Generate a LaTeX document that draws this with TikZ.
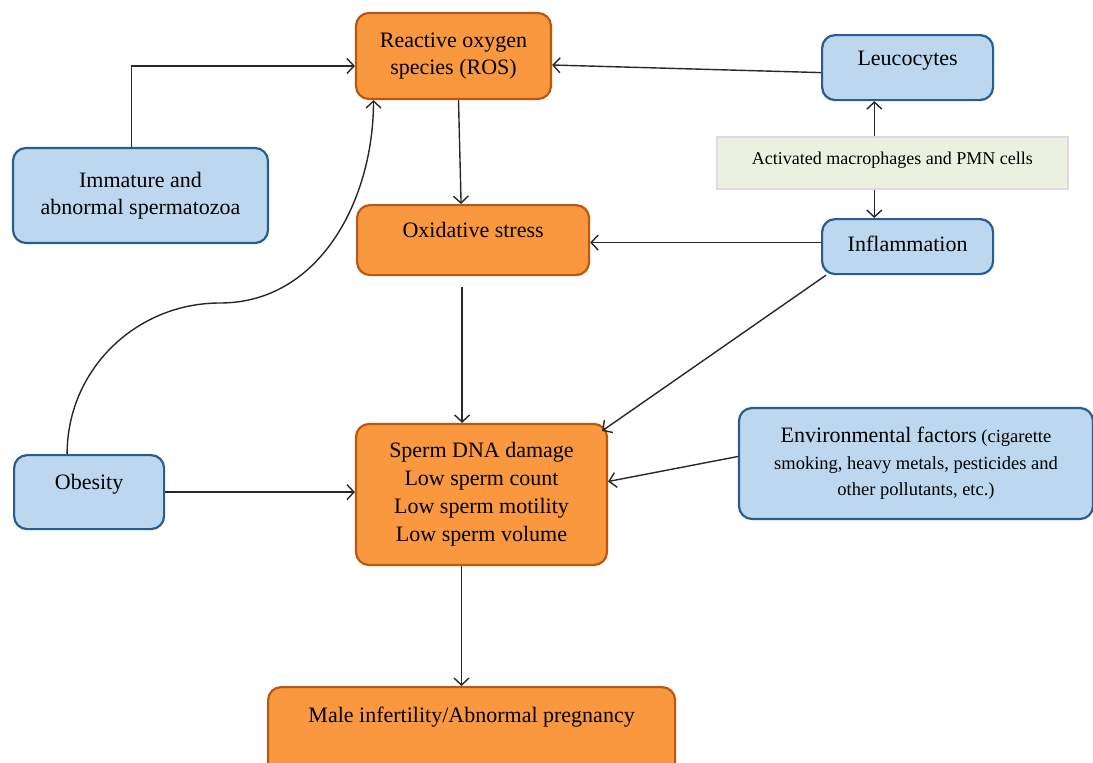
\documentclass[tikz,border=0pt]{standalone}
\usepackage{fontspec}
\setmainfont{Liberation Serif}
\usetikzlibrary{arrows.meta}
\definecolor{orangefill}{RGB}{249,152,62}
\definecolor{orangeedge}{RGB}{186,88,18}
\definecolor{bluefill}{RGB}{189,215,238}
\definecolor{blueedge}{RGB}{38,94,144}
\definecolor{greenfill}{RGB}{235,241,222}
\definecolor{pinkedge}{RGB}{228,214,234}
\definecolor{linegray}{RGB}{40,40,40}

\begin{document}
\begin{tikzpicture}[x=1pt,y=-1pt]
                        \tikzstyle{orangebox}=[draw=orangeedge, fill=orangefill, line width=2.2pt, rounded corners=13pt, align=center, font=\fontsize{22}{27.5}\selectfont]
                        \tikzstyle{bluebox}=[draw=blueedge, fill=bluefill, line width=2.2pt, rounded corners=13pt, align=center, font=\fontsize{22}{27.5}\selectfont]
                        \tikzstyle{cellbox}=[draw=pinkedge, fill=greenfill, line width=1.6pt, font=\fontsize{18}{20}\selectfont]
                        \tikzstyle{arr}=[draw=linegray, line width=1.4pt, -{Straight Barb[length=7pt,width=15pt]}]
                        \useasboundingbox (0,0) rectangle (1093,763);
                        \node[orangebox, minimum width=195pt, minimum height=86pt] (ros) at (453.5,56) {Reactive oxygen\\species (ROS)};
                        \node[bluebox, anchor=north west, minimum width=171pt, inner ysep=0pt, text height=30pt, text depth=35pt] (leuco) at (821,34) {Leucocytes};
                        \node[cellbox, anchor=north west, minimum width=351pt, inner ysep=0pt, text height=28pt, text depth=24pt] (macro) at (716,136) {Activated macrophages and PMN cells};
                        \node[bluebox, minimum width=255pt, minimum height=95pt] (immature) at (140.5,195.5) {Immature and\\abnormal spermatozoa};
                        \node[orangebox, anchor=north west, minimum width=232pt, inner ysep=0pt, text height=32pt, text depth=38pt] (oxid) at (356,204) {Oxidative stress};
                        \node[bluebox, anchor=north west, minimum width=171pt, inner ysep=0pt, text height=32pt, text depth=23pt] (inflam) at (821,218) {Inflammation};
                        \node[bluebox, anchor=north west, minimum width=150pt, inner ysep=0pt, text height=34pt, text depth=40pt] (obesity) at (13,454) {Obesity};
                        \node[orangebox, minimum width=251pt, minimum height=141pt, font=\fontsize{22}{28}\selectfont] (sperm) at (481.5,494.5) {Sperm DNA damage\\Low sperm count\\Low sperm motility\\Low sperm volume};
                        \node[bluebox, minimum width=354pt, minimum height=111pt, font=\fontsize{18.5}{26.5}\selectfont] (environ) at (916,463.5) {{\fontsize{22}{26.5}\selectfont Environmental factors} (cigarette\\smoking, heavy metals, pesticides and\\other pollutants, etc.)};
                        \node[orangebox, anchor=north west, minimum width=407pt, inner ysep=0pt, text height=35pt, text depth=55pt] (infertility) at (267,686) {Male infertility/Abnormal pregnancy};
                        \coordinate (bend) at (220,303);
                        \draw[arr] ([xshift=-9pt]immature.north) |- ([yshift=-10pt]ros.west);
                        \draw[arr] ([yshift=-5pt]leuco.west) -- ([yshift=-9pt]ros.east);
                        \draw[arr] ([xshift=5pt]ros.south) -- ([xshift=-12pt]oxid.north);
                        \draw[arr] ([xshift=-18pt]macro.north) -- ([xshift=-18pt]macro.north |- leuco.south);
                        \draw[arr] ([xshift=-18pt]macro.south) -- ([xshift=-18pt]macro.south |- inflam.north);
                        \draw[arr] ([yshift=4pt]inflam.west) -- ([yshift=4pt]inflam.west -| oxid.east);
                        \draw[arr] ([xshift=-11pt,yshift=-11pt]oxid.south) -- ([xshift=-11pt]oxid.south |- sperm.north);
                        \draw[arr] ([xshift=5pt]inflam.south west) -- ([xshift=-6pt,yshift=-8pt]sperm.north east);
                        \draw[arr] ([xshift=-22pt]obesity.north) to[out=90,in=180] (bend) to[out=0,in=-90] ([xshift=-80pt]ros.south);
                        \draw[arr] (obesity.east) -- (obesity.east -| sperm.west);
                        \draw[arr] ([yshift=7pt]environ.west) -- ([yshift=13pt]sperm.east);
                        \draw[arr] ([xshift=-20pt]sperm.south) -- ([xshift=-20pt]sperm.south |- infertility.north);
\end{tikzpicture}
\end{document}
